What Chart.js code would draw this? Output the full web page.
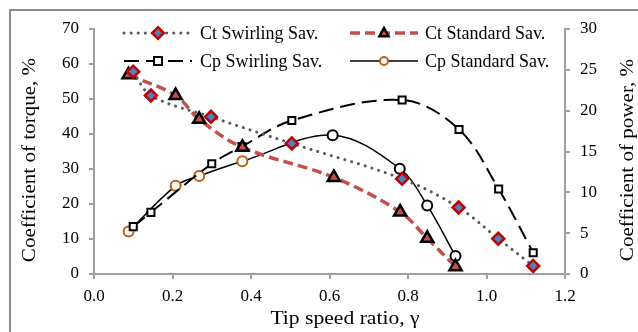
<!DOCTYPE html>
<html>
<head>
<meta charset="utf-8">
<script src="https://cdn.jsdelivr.net/npm/chart.js@4/dist/chart.umd.min.js"></script>
<style>
  body { margin: 0; background: #fff; }
  #wrap { position: relative; width: 638px; height: 332px; }
  #frame { position: absolute; left: 9px; top: 9px; width: 640px; height: 340px;
           border-left: 2px solid #8c8c8c; border-top: 2px solid #8c8c8c; box-sizing: border-box; }
  canvas { position: absolute; left: 0; top: 0; }
</style>
</head>
<body>
<div id="wrap">
  <div id="frame"></div>
  <canvas id="chart" width="638" height="332"></canvas>
</div>
<script>
// tip speed ratio and coefficients
const ctSwirlX = [0.10, 0.145, 0.298, 0.504, 0.785, 0.929, 1.030, 1.119];
const ctSwirlY = [57.8, 51.0, 44.9, 37.3, 27.2, 19.0, 10.1, 2.3];

const ctStdX = [0.088, 0.208, 0.268, 0.378, 0.611, 0.780, 0.849, 0.921];
const ctStdY = [56.9, 51.0, 44.2, 36.2, 27.6, 17.7, 10.2, 2.1];

const cpSwirlX = [0.10, 0.145, 0.30, 0.377, 0.504, 0.785, 0.930, 1.031, 1.119];
const cpSwirlY = [5.8, 7.55, 13.5, 15.6, 18.8, 21.3, 17.7, 10.4, 2.6];

const cpStdX = [0.088, 0.208, 0.268, 0.378, 0.608, 0.779, 0.849, 0.921];
const cpStdY = [5.2, 10.8, 12.0, 13.8, 17.0, 12.9, 8.4, 2.2];

const xTicks = [0, 0.2, 0.4, 0.6, 0.8, 1.0, 1.2];
const leftTicks = [0, 10, 20, 30, 40, 50, 60, 70];
const rightTicks = [0, 5, 10, 15, 20, 25, 30];

const FONT = "'Liberation Serif', 'Times New Roman', serif";
const AXIS = "#a0a0a0";

function pts(xs, ys) {
    return xs.map((x, i) => ({ x: x, y: ys[i] }));
}

// marker shapes for the legend
function marker(ctx, style, r, x, y) {
    ctx.beginPath();
    if (style === "circle") {
        ctx.arc(x, y, r, 0, Math.PI * 2);
    } else if (style === "rect") {
        ctx.rect(x - r, y - r, 2 * r, 2 * r);
    } else if (style === "rectRot") {
        ctx.moveTo(x, y - r * 1.3); ctx.lineTo(x + r * 1.3, y);
        ctx.lineTo(x, y + r * 1.3); ctx.lineTo(x - r * 1.3, y);
        ctx.closePath();
    } else if (style === "triangle") {
        ctx.moveTo(x, y - r * 1.1); ctx.lineTo(x + r, y + r * 0.7);
        ctx.lineTo(x - r, y + r * 0.7); ctx.closePath();
    }
    ctx.fill();
    ctx.stroke();
}

const legendItems = [
    { ds: 0, x1: 124, x2: 190, mx: 158, tx: 200, y: 33 },
    { ds: 1, x1: 350, x2: 418, mx: 384, tx: 425, y: 33 },
    { ds: 2, x1: 124, x2: 192, mx: 158, tx: 200, y: 61 },
    { ds: 3, x1: 350, x2: 418, mx: 384, tx: 425, y: 61 }
];

const legendPlugin = {
    id: "pairLegend",
    afterDraw(chart) {
        const ctx = chart.ctx;
        legendItems.forEach(it => {
            const d = chart.data.datasets[it.ds];
            ctx.save();
            ctx.strokeStyle = d.borderColor;
            ctx.lineWidth = d.borderWidth;
            ctx.lineCap = d.borderCapStyle || "butt";
            ctx.setLineDash(d.borderDash || []);
            ctx.beginPath();
            ctx.moveTo(it.x1, it.y);
            ctx.lineTo(it.x2, it.y);
            ctx.stroke();
            ctx.setLineDash([]);
            ctx.lineCap = "butt";
            ctx.fillStyle = d.legendFill;
            ctx.strokeStyle = d.legendBorder;
            ctx.lineWidth = d.pointBorderWidth;
            marker(ctx, d.pointStyle, d.legendR, it.mx, it.y);
            ctx.fillStyle = "#000";
            ctx.font = "18px " + FONT;
            ctx.textBaseline = "middle";
            ctx.fillText(d.label, it.tx, it.y + 1);
            ctx.restore();
        });
    }
};

// axis titles, slightly widened like the original
const axisTitles = [
    { text: "Tip speed ratio, \u03b3", x: 345, y: 319, rot: 0, sx: 1.2 },
    { text: "Coefficient of torque, %", x: 30, y: 160, rot: -Math.PI / 2, sx: 1.17 },
    { text: "Coefficient of power, %", x: 628, y: 160, rot: -Math.PI / 2, sx: 1.17 }
];

const titlePlugin = {
    id: "axisTitles",
    afterDraw(chart) {
        const ctx = chart.ctx;
        axisTitles.forEach(t => {
            ctx.save();
            ctx.translate(t.x, t.y);
            ctx.rotate(t.rot);
            ctx.scale(t.sx, 1);
            ctx.font = "18px " + FONT;
            ctx.fillStyle = "#000";
            ctx.textAlign = "center";
            ctx.textBaseline = "middle";
            ctx.fillText(t.text, 0, 0);
            ctx.restore();
        });
    }
};

const gridOpts = { display: true, drawOnChartArea: false, drawTicks: true, tickLength: 5, color: AXIS, lineWidth: 2 };

const ctx = document.getElementById("chart").getContext("2d");
new Chart(ctx, {
    type: "line",
    data: {
        datasets: [
            {
                label: "Ct Swirling Sav.",
                data: pts(ctSwirlX, ctSwirlY),
                yAxisID: "y",
                borderColor: "#595959",
                borderWidth: 3,
                borderDash: [0.1, 7],
                borderCapStyle: "round",
                pointStyle: "rectRot",
                pointRadius: 6,
                pointBackgroundColor: "#4f81bd",
                pointBorderColor: "#c00000",
                pointBorderWidth: 2.5,
                legendFill: "#4f81bd", legendBorder: "#c00000", legendR: 4.5,
                tension: 0.35,
                order: 1
            },
            {
                label: "Ct Standard Sav.",
                data: pts(ctStdX, ctStdY),
                yAxisID: "y",
                borderColor: "#c0504d",
                borderWidth: 3.5,
                borderDash: [10, 5],
                pointStyle: "triangle",
                pointRadius: 7,
                pointBackgroundColor: "#c0504d",
                pointBorderColor: "#000",
                pointBorderWidth: 2.5,
                legendFill: "#c0504d", legendBorder: "#000", legendR: 4.5,
                tension: 0.35,
                order: 2
            },
            {
                label: "Cp Swirling Sav.",
                data: pts(cpSwirlX, cpSwirlY),
                yAxisID: "y2",
                borderColor: "#000",
                borderWidth: 2,
                borderDash: [15, 7],
                pointStyle: "rect",
                pointRadius: 5,
                pointBackgroundColor: "#fff",
                pointBorderColor: "#000",
                pointBorderWidth: 2,
                legendFill: "#fff", legendBorder: "#000", legendR: 4,
                tension: 0.35,
                order: 3
            },
            {
                label: "Cp Standard Sav.",
                data: pts(cpStdX, cpStdY),
                yAxisID: "y2",
                borderColor: "#000",
                borderWidth: 1.5,
                pointStyle: "circle",
                pointRadius: 5,
                pointBackgroundColor: "#fff",
                pointBorderColor: ["#b8600f", "#b8600f", "#b8600f", "#b8600f", "#000", "#000", "#000", "#000"],
                pointBorderWidth: 2,
                legendFill: "#fff", legendBorder: "#b8600f", legendR: 4,
                tension: 0.35,
                order: 4
            }
        ]
    },
    options: {
        responsive: false,
        animation: false,
        layout: { padding: { top: 29, left: 0, right: 0, bottom: 0 } },
        plugins: {
            legend: { display: false },
            tooltip: { enabled: false }
        },
        scales: {
            x: {
                type: "linear",
                min: 0, max: 1.2,
                afterBuildTicks: s => { s.ticks = xTicks.map(v => ({ value: v })); },
                afterFit: s => { s.height = 58; },
                grid: gridOpts,
                border: { display: true, color: AXIS, width: 2 },
                ticks: {
                    color: "#000", padding: 7,
                    font: { family: FONT, size: 17 },
                    callback: v => v.toFixed(1)
                }
            },
            y: {
                position: "left",
                min: 0, max: 70,
                afterBuildTicks: s => { s.ticks = leftTicks.map(v => ({ value: v })); },
                afterFit: s => { s.width = 94; },
                grid: gridOpts,
                border: { display: true, color: AXIS, width: 2 },
                ticks: { color: "#000", padding: 10, font: { family: FONT, size: 17 } }
            },
            y2: {
                position: "right",
                min: 0, max: 30,
                afterBuildTicks: s => { s.ticks = rightTicks.map(v => ({ value: v })); },
                afterFit: s => { s.width = 73; },
                grid: gridOpts,
                border: { display: true, color: AXIS, width: 2 },
                ticks: { color: "#000", padding: 10, font: { family: FONT, size: 17 } }
            }
        }
    },
    plugins: [legendPlugin, titlePlugin]
});
</script>
</body>
</html>
